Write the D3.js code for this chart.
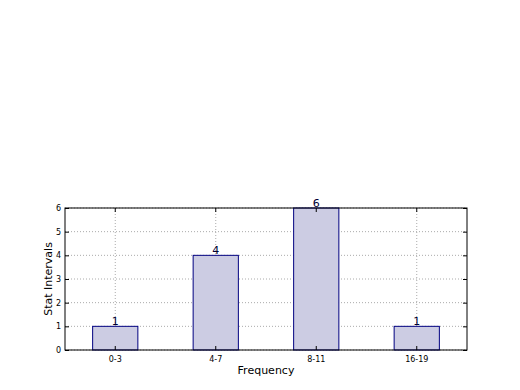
<!DOCTYPE html>
<html>
<head>
<meta charset="utf-8">
<script src="https://cdn.jsdelivr.net/npm/d3@7"></script>
<style>
  body { margin: 0; background: #fff; }
  text { font-family: "DejaVu Sans", sans-serif; }
</style>
</head>
<body>
<div id="chart"></div>
<script>
var categories = ["0-3", "4-7", "8-11", "16-19"];
var counts = [1, 4, 6, 1];
var yTicks = [0, 1, 2, 3, 4, 5, 6];

var margin = { top: 208, right: 53, bottom: 40, left: 65 },
    width = 520 - margin.left - margin.right,
    height = 390 - margin.top - margin.bottom;

var svg = d3.select("#chart")
    .append("svg")
    .attr("width", 520)
    .attr("height", 390)
    .append("g")
    .attr("transform", "translate(" + margin.left + "," + margin.top + ")");

var x = d3.scaleBand()
    .domain(categories)
    .range([0, width])
    .paddingInner(0.55)
    .paddingOuter(0.275);

var y = d3.scaleLinear()
    .domain([0, 6])
    .range([height, 0]);

// grid
svg.append("g")
    .selectAll("line")
    .data(yTicks)
    .enter().append("line")
    .attr("x1", 0).attr("x2", width)
    .attr("y1", d => y(d)).attr("y2", d => y(d))
    .attr("stroke", "#aaa")
    .attr("stroke-width", 1)
    .attr("stroke-dasharray", "1,2");

svg.append("g")
    .selectAll("line")
    .data(categories)
    .enter().append("line")
    .attr("x1", d => x(d) + x.bandwidth() / 2).attr("x2", d => x(d) + x.bandwidth() / 2)
    .attr("y1", 0).attr("y2", height)
    .attr("stroke", "#aaa")
    .attr("stroke-width", 1)
    .attr("stroke-dasharray", "1,2");

// bars
var data = categories.map((c, i) => ({ cat: c, val: counts[i] }));

svg.selectAll("rect.bar")
    .data(data)
    .enter().append("rect")
    .attr("class", "bar")
    .attr("x", d => x(d.cat))
    .attr("y", d => y(d.val))
    .attr("width", x.bandwidth())
    .attr("height", d => height - y(d.val))
    .attr("fill", "#cccce3")
    .attr("stroke", "#000080")
    .attr("stroke-width", 1);

// value labels
svg.selectAll("text.val")
    .data(data)
    .enter().append("text")
    .attr("class", "val")
    .attr("x", d => x(d.cat) + x.bandwidth() / 2)
    .attr("y", d => y(d.val) - 1)
    .attr("text-anchor", "middle")
    .style("font-size", "11px")
    .attr("fill", "#000033")
    .text(d => d.val);

// axes
var xAxis = svg.append("g")
    .attr("transform", "translate(0," + height + ")")
    .call(d3.axisBottom(x).tickSizeInner(-4).tickSizeOuter(0).tickPadding(6));
xAxis.selectAll("text").style("font-size", "8px").attr("fill", "#000");

svg.append("g")
    .call(d3.axisTop(x).tickSizeInner(-4).tickSizeOuter(0).tickFormat(""));

var yAxis = svg.append("g")
    .call(d3.axisLeft(y).tickValues(yTicks).tickFormat(d3.format("d"))
        .tickSizeInner(-4).tickSizeOuter(0).tickPadding(4));
yAxis.selectAll("text").style("font-size", "8px").attr("fill", "#000");

svg.append("g")
    .attr("transform", "translate(" + width + ",0)")
    .call(d3.axisRight(y).tickValues(yTicks).tickSizeInner(-4).tickSizeOuter(0).tickFormat(""));

svg.selectAll(".domain").remove();
svg.selectAll(".tick line").attr("stroke", "#000");

// frame
svg.append("rect")
    .attr("x", 0).attr("y", 0)
    .attr("width", width).attr("height", height)
    .attr("fill", "none")
    .attr("stroke", "#000")
    .attr("stroke-width", 1);

// axis labels
svg.append("text")
    .attr("x", width / 2)
    .attr("y", height + 24)
    .attr("text-anchor", "middle")
    .style("font-size", "11px")
    .text("Frequency");

svg.append("text")
    .attr("transform", "rotate(-90)")
    .attr("x", -height / 2)
    .attr("y", -13)
    .attr("text-anchor", "middle")
    .style("font-size", "11px")
    .text("Stat Intervals");
</script>
</body>
</html>
